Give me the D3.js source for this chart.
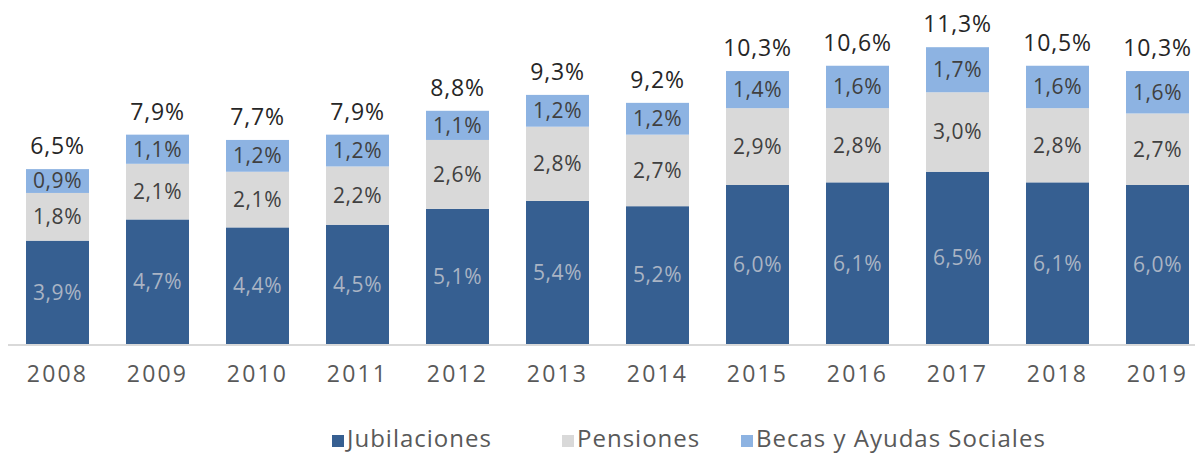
<!DOCTYPE html>
<html>
<head>
<meta charset="utf-8">
<script src="https://cdn.jsdelivr.net/npm/d3@7"></script>
<style>
  body { margin: 0; background: #fff; }
  svg { display: block; font-family: "Open Sans", sans-serif; }
</style>
</head>
<body>
<svg id="chart" width="1195" height="454"></svg>
<script>
// Chart data
const years = ["2008", "2009", "2010", "2011", "2012", "2013", "2014", "2015", "2016", "2017", "2018", "2019"];
const jubilaciones = [3.9, 4.7, 4.4, 4.5, 5.1, 5.4, 5.2, 6.0, 6.1, 6.5, 6.1, 6.0];
const pensiones = [1.8, 2.1, 2.1, 2.2, 2.6, 2.8, 2.7, 2.9, 2.8, 3.0, 2.8, 2.7];
const becas = [0.9, 1.1, 1.2, 1.2, 1.1, 1.2, 1.2, 1.4, 1.6, 1.7, 1.6, 1.6];
const totals = [6.5, 7.9, 7.7, 7.9, 8.8, 9.3, 9.2, 10.3, 10.6, 11.3, 10.5, 10.3];
const seriesNames = ["Jubilaciones", "Pensiones", "Becas y Ayudas Sociales"];

const colors = ["#365f91", "#d9d9d9", "#8db3e2"];
const labelColors = ["#aab4c4", "#404040", "#404040"];

const svg = d3.select("#chart");
const baseY = 344;

const x = d3.scaleBand().domain(years).range([7.5, 1207.5]).paddingInner(0.37).paddingOuter(0.185);
const y = d3.scaleLinear().domain([0, 12]).range([baseY, baseY - 26.5 * 12]);

// Build rows for stacking
const rows = years.map((yr, i) => ({
  year: yr,
  Jubilaciones: jubilaciones[i],
  Pensiones: pensiones[i],
  "Becas y Ayudas Sociales": becas[i],
  total: totals[i],
}));

const stack = d3.stack().keys(seriesNames);
const layers = stack(rows);

const fmt = (v) => d3.format(".1f")(v).replace(".", ",") + "%";

// Axis baseline
svg.append("line")
  .attr("x1", 8).attr("x2", 1195)
  .attr("y1", baseY + 1).attr("y2", baseY + 1)
  .attr("stroke", "#d9d9d9").attr("stroke-width", 2);

// Bars
const groups = svg.selectAll("g.layer")
  .data(layers)
  .enter()
  .append("g")
  .attr("class", "layer");

groups.selectAll("rect")
  .data((d) => d)
  .enter()
  .append("rect")
  .attr("x", (d) => x(d.data.year))
  .attr("width", x.bandwidth())
  .attr("y", (d) => y(d[1]))
  .attr("height", (d) => y(d[0]) - y(d[1]))
  .attr("fill", function () { return colors[d3.select(this.parentNode).datum().index]; });

// Segment labels
groups.each(function (layer) {
  d3.select(this).selectAll("text")
    .data(layer)
    .enter()
    .append("text")
    .attr("x", (d) => x(d.data.year) + x.bandwidth() / 2)
    .attr("y", (d) => (y(d[0]) + y(d[1])) / 2)
    .attr("dy", "0.35em")
    .attr("text-anchor", "middle")
    .attr("font-size", 21)
    .attr("letter-spacing", 0.6)
    .attr("fill", labelColors[layer.index])
    .text((d) => fmt(d[1] - d[0]));
});

// Total labels
svg.selectAll("text.total")
  .data(layers[2])
  .enter()
  .append("text")
  .attr("class", "total")
  .attr("x", (d) => x(d.data.year) + x.bandwidth() / 2)
  .attr("y", (d) => y(d[1]) - 15)
  .attr("text-anchor", "middle")
  .attr("font-size", 23)
  .attr("letter-spacing", 0.8)
  .attr("fill", "#262626")
  .text((d) => fmt(d.data.total));

// X axis labels
const xAxis = d3.axisBottom(x).tickSize(0).tickPadding(0);
const axisG = svg.append("g")
  .attr("transform", `translate(0,${baseY})`)
  .call(xAxis);
axisG.select(".domain").remove();
axisG.selectAll("text")
  .attr("y", 38)
  .attr("dy", 0)
  .attr("font-size", 23)
  .attr("font-family", "Open Sans, sans-serif")
  .attr("letter-spacing", 2.2)
  .attr("fill", "#595959");

// Legend
const legendX = [332, 562, 741];
const legend = svg.selectAll("g.legend")
  .data(seriesNames)
  .enter()
  .append("g")
  .attr("class", "legend")
  .attr("transform", (d, i) => `translate(${legendX[i]},0)`);

legend.append("rect")
  .attr("x", 0).attr("y", 435)
  .attr("width", 12).attr("height", 12)
  .attr("fill", (d, i) => colors[i]);

legend.append("text")
  .attr("x", 15).attr("y", 447)
  .attr("font-size", 24)
  .attr("letter-spacing", 1)
  .attr("fill", "#595959")
  .text((d) => d);
</script>
</body>
</html>
